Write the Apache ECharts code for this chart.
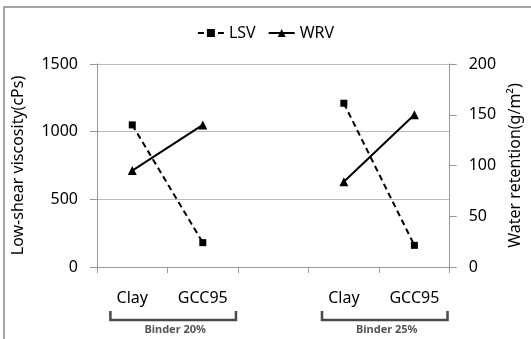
<!DOCTYPE html>
<html><head><meta charset="utf-8">
<script src="https://cdn.jsdelivr.net/npm/echarts@6/dist/echarts.min.js"></script>
<style>html,body{margin:0;padding:0;background:#fff}#c{width:531px;height:339px}</style>
</head><body><div id="c"></div>
<script>
const categories = ['Clay', 'GCC95', '', 'Clay', 'GCC95'];
const lsv = [1050, 180, null, 1210, 160];
const wrv = [95, 140, null, 84, 150];
const groups = [
  { label: 'Binder 20%', from: 0, to: 1 },
  { label: 'Binder 25%', from: 3, to: 4 }
];
const leftTicks = { min: 0, max: 1500, interval: 500 };
const rightTicks = { min: 0, max: 200, interval: 50 };
const FONT = '"Noto Sans", "Open Sans", sans-serif';

const chart = echarts.init(document.getElementById('c'), null, { renderer: 'canvas' });
chart.setOption({
  animation: false,
  backgroundColor: '#fff',
  textStyle: { fontFamily: FONT },
  legend: {
    top: 20, left: 'center', itemWidth: 26, itemHeight: 10, itemGap: 12,
    textStyle: { fontSize: 16, color: '#000', fontFamily: FONT },
    data: ['LSV', 'WRV']
  },
  grid: { left: 97, right: 76, top: 64, bottom: 72, containLabel: false },
  xAxis: {
    type: 'category', data: categories, boundaryGap: true,
    axisLine: { lineStyle: { color: '#999', width: 1 } },
    axisTick: { show: true, length: 6, lineStyle: { color: '#999' }, alignWithLabel: false },
    axisLabel: { fontSize: 16, color: '#000', margin: 23, fontFamily: FONT, interval: 0 }
  },
  yAxis: [
    {
      type: 'value', min: leftTicks.min, max: leftTicks.max, interval: leftTicks.interval,
      name: 'Low-shear viscosity(cPs)', nameLocation: 'middle', nameGap: 71, nameRotate: 90,
      nameTextStyle: { fontSize: 16, color: '#000', fontFamily: FONT },
      axisLine: { show: true, lineStyle: { color: '#999' } },
      axisTick: { show: true, length: 7, lineStyle: { color: '#999' } },
      axisLabel: { fontSize: 16, color: '#000', margin: 19, fontFamily: FONT, formatter: v => String(v) },
      splitLine: { lineStyle: { color: '#bbb' } }
    },
    {
      type: 'value', min: rightTicks.min, max: rightTicks.max, interval: rightTicks.interval,
      name: 'Water retention(g/m²)', nameLocation: 'middle', nameGap: 46, nameRotate: 90,
      nameTextStyle: { fontSize: 16, color: '#000', fontFamily: FONT },
      axisLine: { show: true, lineStyle: { color: '#999' } },
      axisTick: { show: true, length: 7, lineStyle: { color: '#999' } },
      axisLabel: { fontSize: 16, color: '#000', margin: 19, fontFamily: FONT, formatter: v => String(v) },
      splitLine: { show: false }
    }
  ],
  series: [
    {
      name: 'LSV', type: 'line', yAxisIndex: 0, data: lsv, connectNulls: false,
      symbol: 'rect', symbolSize: 7,
      lineStyle: { color: '#000', width: 2, type: [6, 4] },
      itemStyle: { color: '#000' }
    },
    {
      name: 'WRV', type: 'line', yAxisIndex: 1, data: wrv, connectNulls: false,
      symbol: 'triangle', symbolSize: 9,
      lineStyle: { color: '#000', width: 2 },
      itemStyle: { color: '#000' }
    }
  ]
});

// group brackets positioned from the category axis
const baseY = chart.convertToPixel({ yAxisIndex: 0 }, 0);
const elements = [
  { type: 'rect', shape: { x: 4, y: 7, width: 600, height: 400 }, style: { fill: 'none', stroke: '#888', lineWidth: 1.5 }, silent: true }
];
groups.forEach(g => {
  const x1 = chart.convertToPixel({ xAxisIndex: 0 }, g.from);
  const x2 = chart.convertToPixel({ xAxisIndex: 0 }, g.to);
  const half = (x2 - x1) / 2;
  const L = x1 - half * 0.62, R = x2 + half * 0.94;
  const top = baseY + 44, bot = baseY + 53;
  elements.push({
    type: 'polyline',
    shape: { points: [[L, top], [L, bot], [R, bot], [R, top]] },
    style: { stroke: '#4a4a4a', lineWidth: 2.5, fill: 'none' }
  });
  elements.push({
    type: 'text',
    style: { text: g.label, x: (L + R) / 2 + 2, y: bot + 10, align: 'center', verticalAlign: 'middle',
      font: 'bold 11px ' + FONT, fill: '#555' }
  });
});
chart.setOption({ graphic: elements });
</script>
</body></html>
